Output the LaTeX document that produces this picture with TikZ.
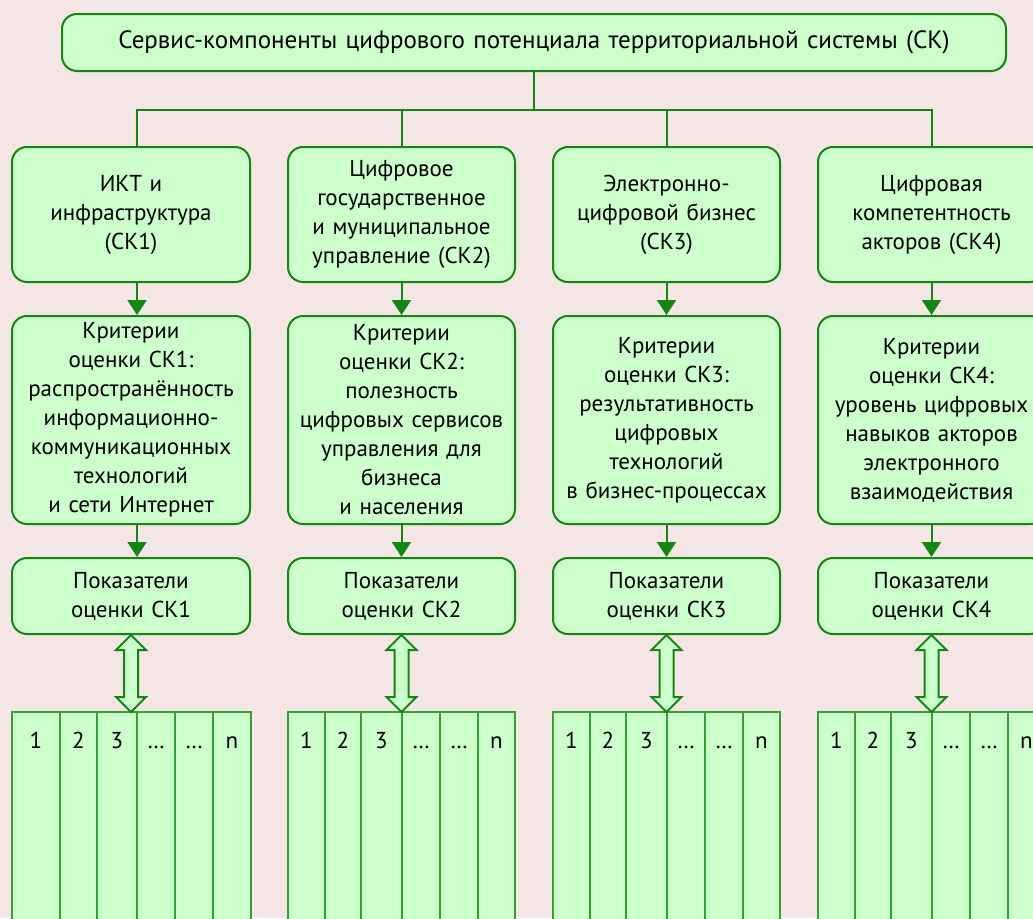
\documentclass[tikz,border=0pt]{standalone}
\usepackage{fontspec}
\setmainfont{PT Sans}
\usetikzlibrary{positioning,calc,arrows.meta}
\definecolor{bgpink}{HTML}{F5E6E6}
\definecolor{boxfill}{HTML}{CCFFCC}
\definecolor{boxline}{HTML}{138613}
\definecolor{gridline}{HTML}{36A036}
\tikzset{
  sk/.style={draw=boxline, line width=2pt, fill=boxfill, rounded corners=15pt,
    align=center, inner sep=0pt, font=\fontsize{23}{29}\selectfont},
  cell/.style={draw=gridline, line width=1.6pt, fill=boxfill, anchor=north west,
    inner xsep=0pt, inner ysep=15pt, outer sep=0pt, text height=21pt, text depth=200pt,
    font=\fontsize{23}{24}\selectfont},
  link/.style={draw=boxline, line width=2pt},
  arr/.style={link, -{Triangle[width=19pt,length=15pt]}},
  dbl/.style={draw=boxline, line width=2pt, fill=boxfill, line join=miter},
}
% two-way block arrow between two points
\newcommand{\twoway}[2]{%
  \draw[dbl] (#1) -- ($(#1)+(15pt,-15pt)$) -- ($(#1)+(7pt,-15pt)$)
    -- ($(#2)+(7pt,15pt)$) -- ($(#2)+(15pt,15pt)$) -- (#2)
    -- ($(#2)+(-15pt,15pt)$) -- ($(#2)+(-7pt,15pt)$)
    -- ($(#1)+(-7pt,-15pt)$) -- ($(#1)+(-15pt,-15pt)$) -- cycle;}
\begin{document}
\begin{tikzpicture}[x=1pt, y=-1pt]
  \path[use as bounding box, fill=bgpink] (0,0) rectangle (1033,918);
  \clip (0,0) rectangle (1033,918);

  % top
  \node[sk, text width=944pt, minimum height=57pt, font=\fontsize{25}{29}\selectfont] (sk) at (534,42.5)
    {Сервис-компоненты цифрового потенциала территориальной системы (СК)};

  % components
  \node[sk, text width=238pt, minimum height=135pt] (ikt) at (131,214.5)
    {ИКТ и\\инфраструктура\\(СК1)};
  \node[sk, text width=227pt, minimum height=135pt] (gos) at (401.5,214.5)
    {Цифровое\\государственное\\и муниципальное\\управление (СК2)};
  \node[sk, text width=227pt, minimum height=135pt] (biz) at (666.5,214.5)
    {Электронно-\\цифровой бизнес\\(СК3)};
  \node[sk, text width=227pt, minimum height=135pt] (akt) at (931.5,214.5)
    {Цифровая\\компетентность\\акторов (СК4)};

  % criteria
  \node[sk, text width=238pt, minimum height=208pt] (kr1) at (131,420)
    {Критерии\\оценки СК1:\\распространённость\\информационно-\\коммуникационных\\технологий\\и сети Интернет};
  \node[sk, text width=227pt, minimum height=208pt] (kr2) at (401.5,420)
    {Критерии\\оценки СК2:\\полезность\\цифровых сервисов\\управления для\\бизнеса\\и населения};
  \node[sk, text width=227pt, minimum height=208pt] (kr3) at (666.5,420)
    {Критерии\\оценки СК3:\\результативность\\цифровых\\технологий\\в бизнес-процессах};
  \node[sk, text width=227pt, minimum height=208pt] (kr4) at (931.5,420)
    {Критерии\\оценки СК4:\\уровень цифровых\\навыков акторов\\электронного\\взаимодействия};

  % indicators
  \node[sk, text width=238pt, minimum height=76pt] (pk1) at (131,596)
    {Показатели\\оценки СК1};
  \node[sk, text width=227pt, minimum height=76pt] (pk2) at (401.5,596)
    {Показатели\\оценки СК2};
  \node[sk, text width=227pt, minimum height=76pt] (pk3) at (666.5,596)
    {Показатели\\оценки СК3};
  \node[sk, text width=227pt, minimum height=76pt] (pk4) at (931.5,596)
    {Показатели\\оценки СК4};

  % indicator tables
  \node[cell, minimum width=48pt] (t1a) at (12,712) {1};
  \node[cell, minimum width=37pt, right=0pt of t1a] (t1b) {2};
  \node[cell, minimum width=40pt, right=0pt of t1b] (t1c) {3};
  \node[cell, minimum width=38pt, right=0pt of t1c] (t1d) {\dots};
  \node[cell, minimum width=38pt, right=0pt of t1d] (t1e) {\dots};
  \node[cell, minimum width=38pt, right=0pt of t1e] (t1f) {n};

  \node[cell, minimum width=37pt] (t2a) at (288,712) {1};
  \node[cell, minimum width=36pt, right=0pt of t2a] (t2b) {2};
  \node[cell, minimum width=41pt, right=0pt of t2b] (t2c) {3};
  \node[cell, minimum width=38pt, right=0pt of t2c] (t2d) {\dots};
  \node[cell, minimum width=38pt, right=0pt of t2d] (t2e) {\dots};
  \node[cell, minimum width=37pt, right=0pt of t2e] (t2f) {n};

  \node[cell, minimum width=37pt] (t3a) at (553,712) {1};
  \node[cell, minimum width=36pt, right=0pt of t3a] (t3b) {2};
  \node[cell, minimum width=41pt, right=0pt of t3b] (t3c) {3};
  \node[cell, minimum width=38pt, right=0pt of t3c] (t3d) {\dots};
  \node[cell, minimum width=38pt, right=0pt of t3d] (t3e) {\dots};
  \node[cell, minimum width=37pt, right=0pt of t3e] (t3f) {n};

  \node[cell, minimum width=37pt] (t4a) at (818,712) {1};
  \node[cell, minimum width=36pt, right=0pt of t4a] (t4b) {2};
  \node[cell, minimum width=41pt, right=0pt of t4b] (t4c) {3};
  \node[cell, minimum width=38pt, right=0pt of t4c] (t4d) {\dots};
  \node[cell, minimum width=38pt, right=0pt of t4d] (t4e) {\dots};
  \node[cell, minimum width=37pt, right=0pt of t4e] (t4f) {n};

  % connectors
  \coordinate (bus) at (534,110);
  \coordinate (x1) at (137,0);
  \draw[link] (sk.south) -- (bus);
  \draw[link] (ikt.north -| x1) |- (bus) -| (akt.north);
  \draw[link] (gos.north) |- (bus);
  \draw[link] (biz.north) |- (bus);

  \draw[arr] (ikt.south -| x1) -- (kr1.north -| x1);
  \draw[arr] (gos.south) -- (kr2.north);
  \draw[arr] (biz.south) -- (kr3.north);
  \draw[arr] (akt.south) -- (kr4.north);

  \draw[arr] (kr1.south -| x1) -- (pk1.north -| x1);
  \draw[arr] (kr2.south) -- (pk2.north);
  \draw[arr] (kr3.south) -- (pk3.north);
  \draw[arr] (kr4.south) -- (pk4.north);

  \twoway{pk1.south}{pk1.south |- t1a.north}
  \twoway{pk2.south}{pk2.south |- t2a.north}
  \twoway{pk3.south}{pk3.south |- t3a.north}
  \twoway{pk4.south}{pk4.south |- t4a.north}
\end{tikzpicture}
\end{document}
